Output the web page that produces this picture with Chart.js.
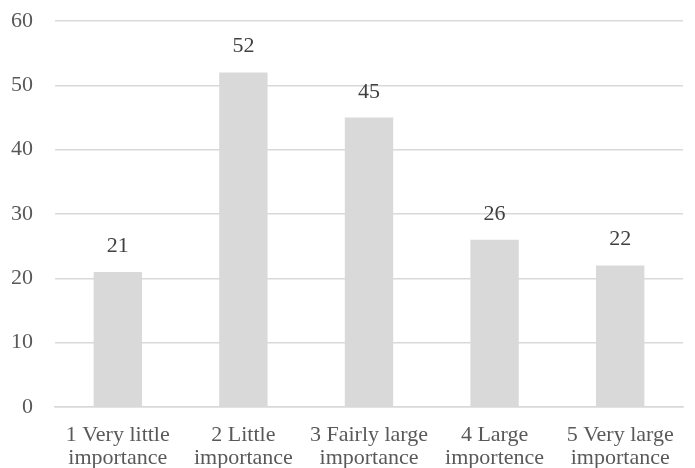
<!DOCTYPE html>
<html>
<head>
<meta charset="utf-8">
<script src="https://cdn.jsdelivr.net/npm/chart.js@4"></script>
<style>
  html, body { margin: 0; padding: 0; background: #ffffff; }
  #wrap { width: 695px; height: 468px; position: relative; }
</style>
</head>
<body>
<div id="wrap"><canvas id="chart"></canvas></div>
<script>
// Importance ratings and number of responses
const categories = [
  ['1 Very little', 'importance'],
  ['2 Little', 'importance'],
  ['3 Fairly large', 'importance'],
  ['4 Large', 'importence'],
  ['5 Very large', 'importance']
];
const counts = [21, 52, 45, 26, 22];
const yTicks = [0, 10, 20, 30, 40, 50, 60];

const FONT = '"Liberation Serif", "Times New Roman", serif';
const TEXT = '#595959';

// Draws each bar's value just above it
const valueLabels = {
  id: 'valueLabels',
  afterDatasetsDraw(chart) {
    const ctx = chart.ctx;
    const meta = chart.getDatasetMeta(0);
    ctx.save();
    ctx.font = '22px ' + FONT;
    ctx.fillStyle = '#404040';
    ctx.textAlign = 'center';
    ctx.textBaseline = 'alphabetic';
    meta.data.forEach((bar, i) => {
      ctx.fillText(String(counts[i]), bar.x, bar.y - 20);
    });
    ctx.restore();
  }
};

new Chart(document.getElementById('chart'), {
  type: 'bar',
  data: {
    labels: categories,
    datasets: [{
      data: counts,
      backgroundColor: '#d9d9d9',
      borderWidth: 0,
      categoryPercentage: 1,
      barPercentage: 0.385
    }]
  },
  options: {
    responsive: true,
    maintainAspectRatio: false,
    animation: false,
    layout: { padding: { top: 21, right: 12, bottom: 0, left: 0 } },
    plugins: { legend: { display: false }, tooltip: { enabled: false } },
    scales: {
      x: {
        grid: { display: false },
        border: { display: true, color: '#d9d9d9', width: 1.5 },
        ticks: { color: TEXT, font: { family: FONT, size: 22, lineHeight: 1.08 }, padding: 8, maxRotation: 0, autoSkip: false },
        afterFit(scale) { scale.height = 61; scale.paddingLeft = 0; scale.paddingRight = 0; }
      },
      y: {
        min: 0,
        max: 60,
        afterBuildTicks(scale) { scale.ticks = yTicks.map(v => ({ value: v })); },
        grid: { color: '#d9d9d9', lineWidth: 1.5, drawTicks: false },
        border: { display: false },
        ticks: { color: TEXT, font: { family: FONT, size: 22 }, padding: 22 },
        afterFit(scale) { scale.width = 55; scale.paddingTop = 0; scale.paddingBottom = 0; }
      }
    }
  },
  plugins: [valueLabels]
});
</script>
</body>
</html>
